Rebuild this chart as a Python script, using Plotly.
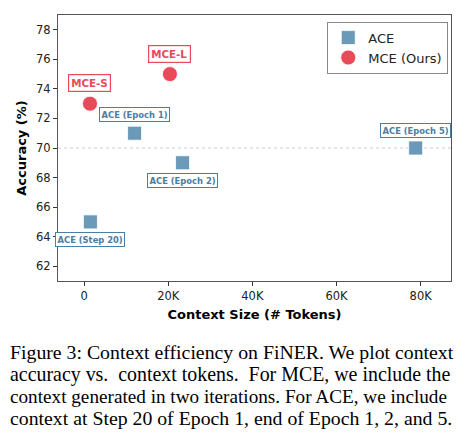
import plotly.graph_objects as go

# context size (tokens) vs accuracy
ace_tokens = [1500, 12000, 23400, 78800]
ace_acc = [65, 71, 69, 70]
ace_labels = ["ACE (Step 20)", "ACE (Epoch 1)", "ACE (Epoch 2)", "ACE (Epoch 5)"]
ace_label_shift = [-18, 19, -18, 18]

mce_tokens = [1400, 20400]
mce_acc = [73, 75]
mce_labels = ["MCE-S", "MCE-L"]
mce_label_shift = [21, 20]

x_ticks = [0, 20000, 40000, 60000, 80000]
x_tick_text = ["0", "20K", "40K", "60K", "80K"]
y_ticks = [62, 64, 66, 68, 70, 72, 74, 76, 78]

caption_lines = [
    "Figure 3: Context efficiency on FiNER. We plot context",
    "accuracy vs.  context tokens.  For MCE, we include the",
    "context generated in two iterations. For ACE, we include",
    "context at Step 20 of Epoch 1, end of Epoch 1, 2, and 5.",
]

BLUE = "#6a9ab8"
BLUE_TXT = "#4a7ea3"
RED = "#e84a5a"

fig = go.Figure()

# reference line at 70
fig.add_shape(type="line", xref="paper", x0=0, x1=1, yref="y", y0=70, y1=70,
              line=dict(color="#cccccc", width=1, dash="dot"), layer="below")

fig.add_trace(go.Scatter(x=ace_tokens, y=ace_acc, mode="markers", name="ACE",
                         marker=dict(symbol="square", size=14, color=BLUE,
                                     line=dict(color="white", width=0.8))))
fig.add_trace(go.Scatter(x=mce_tokens, y=mce_acc, mode="markers", name="MCE (Ours)",
                         marker=dict(symbol="circle", size=15, color=RED,
                                     line=dict(color="white", width=0.8))))

for x, y, t, s in zip(ace_tokens, ace_acc, ace_labels, ace_label_shift):
    fig.add_annotation(x=x, y=y, text="<b>" + t + "</b>", showarrow=False, yshift=s,
                       font=dict(family="DejaVu Sans", size=8.4, color=BLUE_TXT),
                       bgcolor="white", bordercolor=BLUE_TXT, borderwidth=1, borderpad=1.5)

for x, y, t, s in zip(mce_tokens, mce_acc, mce_labels, mce_label_shift):
    fig.add_annotation(x=x, y=y, text="<b>" + t + "</b>", showarrow=False, yshift=s,
                       font=dict(family="DejaVu Sans", size=10.3, color=RED),
                       bgcolor="white", bordercolor=RED, borderwidth=1.2, borderpad=2)

# caption below the plot (plot area 393 x 266 px); the original is justified,
# so each line gets a size that makes it about the same width
line_sizes = [19.8, 19.9, 19.2, 19.8]
for i, line in enumerate(caption_lines):
    fig.add_annotation(xref="paper", yref="paper", x=-50 / 393, y=-71 / 266 - i * 22 / 266,
                       xanchor="left", yanchor="middle", text=line, showarrow=False,
                       font=dict(family="Liberation Serif", size=line_sizes[i], color="black"))

axis_common = dict(showline=True, mirror=True, linecolor="#555555", linewidth=1,
                   ticks="outside", ticklen=4, tickcolor="#333333", showgrid=False,
                   zeroline=False, automargin=False,
                   tickfont=dict(family="DejaVu Sans", size=11.5, color="#222222"))

fig.update_xaxes(range=[-6200, 87200], tickvals=x_ticks, ticktext=x_tick_text,
                 title=dict(text="<b>Context Size (# Tokens)</b>", standoff=8,
                            font=dict(family="DejaVu Sans", size=13, color="black")),
                 **axis_common)
fig.update_yaxes(range=[61, 79], tickvals=y_ticks,
                 title=dict(text="<b>Accuracy (%)</b>", standoff=6,
                            font=dict(family="DejaVu Sans", size=13, color="black")),
                 **axis_common)

# page body has an 8px margin, so the figure is 8px smaller and shifted
fig.update_layout(
    width=458, height=428,
    margin=dict(l=50, r=15, t=7, b=155),
    paper_bgcolor="white", plot_bgcolor="white",
    showlegend=True,
    legend=dict(x=0.993, y=0.975, xanchor="right", yanchor="top",
                bgcolor="white", bordercolor="#888888", borderwidth=1,
                tracegroupgap=0,
                font=dict(family="DejaVu Sans", size=13, color="#222222")),
)

fig.write_html("out.html")
